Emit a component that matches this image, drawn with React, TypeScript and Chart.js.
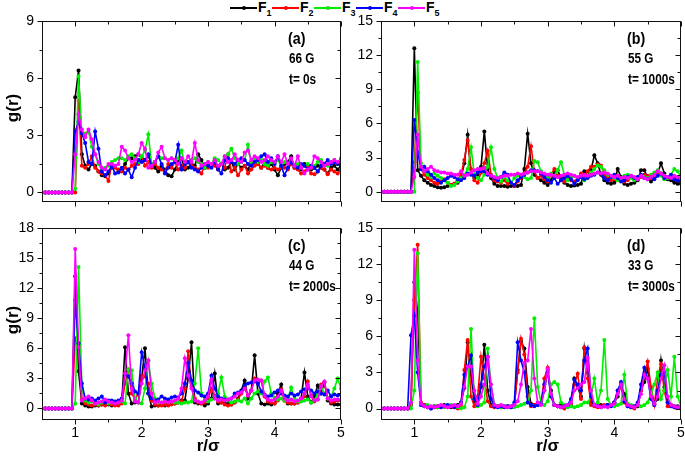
import React, { useEffect, useRef } from 'react';
import { Chart, registerables } from 'chart.js';

Chart.register(...registerables);

const FONT = "'Liberation Sans', Arial, sans-serif";

// ---------------- data ----------------
const rGrid = [
  0.5, 0.55, 0.6, 0.65, 0.7, 0.75, 0.8, 0.85, 0.9, 0.95,
  1, 1.05, 1.1, 1.15, 1.2, 1.25, 1.3, 1.35, 1.4, 1.45,
  1.5, 1.55, 1.6, 1.65, 1.7, 1.75, 1.8, 1.85, 1.9, 1.95,
  2, 2.05, 2.1, 2.15, 2.2, 2.25, 2.3, 2.35, 2.4, 2.45,
  2.5, 2.55, 2.6, 2.65, 2.7, 2.75, 2.8, 2.85, 2.9, 2.95,
  3, 3.05, 3.1, 3.15, 3.2, 3.25, 3.3, 3.35, 3.4, 3.45,
  3.5, 3.55, 3.6, 3.65, 3.7, 3.75, 3.8, 3.85, 3.9, 3.95,
  4, 4.05, 4.1, 4.15, 4.2, 4.25, 4.3, 4.35, 4.4, 4.45,
  4.5, 4.55, 4.6, 4.65, 4.7, 4.75, 4.8, 4.85, 4.9, 4.95,
  5,
];

const seriesNames = ['F1', 'F2', 'F3', 'F4', 'F5'];

// (a) 66 G, t = 0 s
const a_F1 = [
  0, 0, 0, 0, 0, 0, 0, 0, 0, 0,
  5.0, 6.4, 2.0, 1.4, 1.2, 1.5, 1.4, 1.1, 0.9, 0.85,
  1.0, 1.3, 1.4, 1.1, 1.2, 1.5, 1.8, 1.8, 1.9, 2.0,
  1.8, 1.7, 1.9, 1.5, 1.3, 1.1, 1.4, 1.2, 0.9, 0.85,
  1.2, 1.6, 1.8, 1.2, 1.3, 1.5, 1.4, 2.0, 1.7, 1.3,
  1.4, 1.5, 1.7, 1.3, 1.5, 1.2, 1.3, 1.6, 1.2, 1.5,
  1.3, 1.4, 1.2, 1.6, 1.7, 1.5, 1.3, 1.6, 1.3, 1.5,
  1.2, 0.9, 1.3, 1.5, 1.6, 1.9, 1.3, 1.4, 1.2, 1.5,
  1.4, 1.2, 1.3, 1.4, 1.3, 1.2, 1.0, 1.3, 1.4, 1.2,
  1.4,
];
const a_F2 = [
  0, 0, 0, 0, 0, 0, 0, 0, 0, 0,
  0, 4.8, 1.4, 1.3, 1.5, 1.9, 1.3, 1.1, 1.0, 0.9,
  0.6, 1.5, 1.3, 1.2, 1.1, 1.3, 1.2, 1.4, 1.5, 1.5,
  1.9, 1.4, 1.6, 1.3, 1.5, 1.3, 1.2, 1.1, 1.5, 1.3,
  1.6, 1.2, 1.4, 1.3, 1.6, 1.4, 1.3, 1.2, 1.0, 1.4,
  1.3, 1.5, 1.4, 1.2, 1.5, 1.3, 2.0, 1.1, 1.3, 0.9,
  1.2, 1.4, 1.0, 1.2, 1.4, 1.5, 1.3, 1.4, 1.3, 1.2,
  1.3, 1.2, 1.3, 1.3, 1.2, 1.5, 1.3, 1.2, 1.0, 1.1,
  1.3, 1.0, 0.95, 1.1, 1.3, 1.2, 0.95, 1.2, 1.1, 1.0,
  1.2,
];
const a_F3 = [
  0, 0, 0, 0, 0, 0, 0, 0, 0, 0,
  0.2, 6.1, 3.1, 3.1, 3.2, 2.4, 2.0, 1.5, 1.2, 1.3,
  1.4, 1.6, 1.7, 1.8, 1.8, 1.7, 1.9, 2.0, 1.8, 1.6,
  1.9, 2.2, 3.05, 1.5, 1.6, 1.9, 1.8, 1.8, 1.7, 1.8,
  1.6, 1.8, 2.2, 1.5, 1.6, 1.7, 1.8, 1.6, 1.5, 1.3,
  1.6, 1.5, 1.8, 1.7, 1.5, 1.9, 2.0, 2.3, 1.8, 1.5,
  1.6, 1.7, 2.5, 1.6, 1.8, 1.6, 1.7, 1.5, 1.4, 1.6,
  1.5, 1.7, 1.4, 1.6, 1.5, 1.7, 1.4, 1.5, 1.3, 1.4,
  1.5, 1.3, 1.4, 1.6, 1.7, 1.5, 1.4, 1.6, 1.7, 1.5,
  1.7,
];
const a_F4 = [
  0, 0, 0, 0, 0, 0, 0, 0, 0, 0,
  3.2, 3.7, 3.1, 2.6, 1.6, 1.5, 3.2, 2.3, 1.1, 0.9,
  1.1, 1.4, 1.0, 1.05, 1.3, 1.0, 1.2, 0.8, 1.3, 1.7,
  1.6, 1.7, 2.0, 1.4, 1.6, 1.9, 1.5, 1.0, 1.3, 1.5,
  1.6, 2.5, 1.2, 1.5, 1.6, 1.3, 1.2, 1.1, 1.3, 1.5,
  1.4, 1.3, 1.6, 1.2, 1.0, 1.7, 1.8, 1.6, 1.5, 1.7,
  1.8, 1.7, 1.5, 1.4, 1.6, 1.7, 1.9, 2.0, 1.6, 1.8,
  1.5, 1.9, 1.4, 0.9, 1.3, 1.6, 1.4, 1.3, 1.5, 1.4,
  1.2, 1.4, 1.3, 1.1, 1.4, 1.5, 1.7, 1.5, 1.6, 1.5,
  1.6,
];
const a_F5 = [
  0, 0, 0, 0, 0, 0, 0, 0, 0, 0,
  2.0, 4.1, 3.3, 2.9, 3.3, 2.8, 2.0, 1.6, 1.3, 1.2,
  1.5, 1.5, 1.4, 1.5, 2.4, 2.2, 1.8, 1.6, 1.7, 2.0,
  2.6, 2.3, 1.3, 1.4, 1.6, 2.1, 2.4, 1.8, 1.7, 1.8,
  1.7, 1.5, 1.8, 1.6, 1.9, 1.6, 2.6, 1.7, 1.4, 1.5,
  1.6, 1.5, 1.7, 1.4, 1.5, 1.9, 1.6, 1.7, 2.0, 1.7,
  1.6, 2.1, 2.2, 1.7, 1.9, 1.8, 1.6, 1.7, 1.9, 1.7,
  1.6, 1.9, 1.6, 2.0, 1.5, 1.8, 1.4, 1.9, 1.3, 1.0,
  1.2, 1.3, 1.9, 1.8, 1.6, 1.4, 1.5, 1.6, 1.7, 1.6,
  1.8,
];

// (b) 55 G, t = 1000 s
const b_F1 = [
  0, 0, 0, 0, 0, 0, 0, 0, 0, 0,
  12.6, 1.9, 1.4, 1.0, 0.8, 0.6, 0.5, 0.4, 0.35, 0.4,
  0.5, 0.6, 0.7, 0.8, 1.2, 2.5, 5.0, 1.6, 1.2, 1.5,
  2.2, 5.3, 2.0, 1.2, 0.7, 0.5, 0.5, 0.5, 0.45, 0.5,
  0.5, 0.5, 0.6, 2.0, 5.1, 2.5, 1.5, 1.2, 1.0, 0.8,
  0.6, 1.0, 1.7, 1.9, 1.2, 0.8, 0.6, 0.5, 0.55, 0.6,
  0.7, 1.8, 1.4, 1.9, 3.2, 2.5, 1.5, 1.0, 0.8, 0.7,
  0.8, 2.0, 1.3, 0.7, 0.6, 0.7, 0.8, 1.0, 1.9, 1.9,
  1.2, 0.9, 1.3, 1.6, 2.5, 1.6, 1.1, 1.0, 0.8, 0.7,
  0.7,
];
const b_F2 = [
  0, 0, 0, 0, 0, 0, 0, 0, 0, 0,
  2.6, 8.7, 2.0, 1.5, 1.2, 1.0, 0.8, 0.7, 0.9, 1.1,
  0.8, 0.6, 0.7, 1.0, 1.5, 2.8, 4.5, 2.0, 1.0, 0.8,
  1.7, 2.5, 3.6, 1.5, 1.0, 0.9, 0.8, 1.0, 0.7, 0.8,
  0.5, 0.9, 1.2, 1.6, 2.2, 4.0, 1.8, 1.2, 1.4, 1.1,
  0.9, 1.5, 2.0, 1.4, 1.0, 0.9, 1.1, 1.0, 0.9, 1.2,
  1.6, 1.4, 1.8, 2.2, 2.2, 2.4, 2.3, 1.5, 1.2, 1.0,
  1.1, 1.4, 1.2, 0.9, 1.0, 1.3, 1.2, 1.1, 1.3, 1.5,
  1.4, 1.2, 1.4, 1.5, 1.6, 1.3, 1.2, 1.4, 1.2, 1.0,
  1.1,
];
const b_F3 = [
  0, 0, 0, 0, 0, 0, 0, 0, 0, 0,
  0, 11.4, 2.5, 1.8, 1.5, 1.3, 1.6, 1.4, 1.2, 1.0,
  0.8, 0.5, 0.6, 0.9, 1.2, 1.5, 2.0, 3.9, 1.5, 1.2,
  1.0, 1.5, 2.2, 3.9, 2.0, 1.2, 0.9, 1.3, 1.0, 0.8,
  1.2, 1.4, 1.5, 1.3, 1.1, 1.2, 2.7, 2.6, 1.8, 1.5,
  1.2, 1.6, 1.4, 1.9, 2.6, 1.5, 1.0, 1.3, 1.4, 1.2,
  1.3, 1.0, 1.4, 1.7, 2.0, 2.3, 2.2, 1.9, 1.5, 1.3,
  1.2, 1.0, 1.1, 1.4, 1.5, 1.2, 1.0, 1.1, 1.5, 1.3,
  1.2, 1.5, 1.7, 1.9, 1.4, 1.1, 1.2, 1.5, 2.0, 1.8,
  1.3,
];
const b_F4 = [
  0, 0, 0, 0, 0, 0, 0, 0, 0, 0,
  6.3, 3.5, 2.0, 2.2, 1.8, 1.5, 1.2, 1.0, 0.8, 1.0,
  1.2, 1.4, 1.3, 1.1, 1.0, 1.2, 1.6, 1.5, 1.4, 1.7,
  1.8, 1.8, 1.5, 1.4, 1.2, 1.0, 1.3, 1.7, 1.5, 0.8,
  0.6, 1.0, 1.3, 1.5, 1.7, 1.9, 1.9, 1.8, 1.6, 1.3,
  1.0, 0.8, 1.2, 0.7, 1.0, 1.2, 1.4, 1.1, 0.7, 1.0,
  1.3, 1.1, 1.2, 1.4, 1.5, 1.7, 1.6, 1.2, 1.0, 1.3,
  1.5, 1.2, 0.9, 1.0, 1.3, 1.4, 1.2, 1.3, 1.5, 1.2,
  1.1, 1.3, 1.1, 1.4, 1.6, 1.2, 1.3, 1.5, 1.1, 1.0,
  0.9,
];
const b_F5 = [
  0, 0, 0, 0, 0, 0, 0, 0, 0, 0,
  1.3, 5.0, 2.2, 1.8, 2.0, 2.2, 1.9, 1.8, 1.7, 1.7,
  1.6, 1.6, 1.5, 1.5, 1.8, 1.4, 1.5, 1.7, 1.9, 2.0,
  2.0, 2.1, 1.6, 1.4, 1.3, 1.2, 1.3, 1.4, 1.4, 1.5,
  1.5, 1.6, 1.5, 1.6, 1.7, 1.8, 1.8, 1.8, 1.7, 1.6,
  1.5, 1.5, 1.4, 1.3, 1.4, 1.5, 1.6, 1.5, 1.4, 1.3,
  1.4, 1.5, 1.4, 1.5, 1.6, 1.7, 1.6, 1.7, 1.6, 1.4,
  1.3, 1.4, 1.2, 1.3, 1.2, 1.4, 1.3, 1.1, 1.4, 1.2,
  1.1, 1.3, 1.5, 1.8, 1.6, 1.4, 1.3, 1.2, 1.4, 1.3,
  1.2,
];

// (c) 44 G, t = 2000 s
const c_F1 = [
  0, 0, 0, 0, 0, 0, 0, 0, 0, 0,
  13.2, 3.7, 0.5, 0.3, 0.2, 0.2, 0.3, 0.3, 0.4, 0.5,
  0.4, 0.3, 0.4, 0.5, 0.6, 6.1, 1.5, 0.5, 0.6, 0.6,
  3.0, 6.0, 1.5, 0.2, 0.3, 0.3, 0.4, 0.3, 0.4, 0.5,
  0.5, 0.6, 0.8, 0.8, 3.0, 6.6, 0.6, 0.5, 0.5, 0.3,
  0.5, 1.0, 3.5, 0.5, 0.6, 0.5, 0.5, 0.4, 0.6, 1.0,
  1.8, 2.8, 1.0, 1.8, 5.3, 1.5, 0.5, 0.4, 0.5, 0.4,
  0.5, 1.5, 2.4, 0.8, 0.5, 0.5, 0.5, 0.6, 1.0, 3.6,
  1.2, 0.6, 1.2, 2.3, 1.5, 2.6, 0.8, 0.5, 0.4, 0.4,
  0.4,
];
const c_F2 = [
  0, 0, 0, 0, 0, 0, 0, 0, 0, 0,
  7.0, 6.2, 0.9, 0.5, 0.4, 0.3, 0.4, 0.3, 0.4, 0.3,
  0.5, 0.4, 0.3, 0.3, 0.5, 2.5, 3.8, 1.5, 0.9, 1.5,
  3.3, 3.2, 2.5, 0.8, 0.4, 0.3, 0.3, 0.4, 0.3, 0.4,
  0.5, 0.6, 0.7, 2.0, 5.7, 2.2, 1.0, 0.6, 0.5, 0.6,
  1.0, 2.0, 1.3, 0.7, 0.6, 0.4, 0.3, 0.4, 0.6, 0.9,
  1.5, 2.0, 1.3, 1.8, 3.0, 2.5, 2.8, 1.2, 0.7, 0.6,
  0.5, 0.8, 1.9, 0.8, 0.6, 0.5, 0.5, 0.6, 0.8, 1.2,
  2.7, 1.3, 0.7, 0.9, 2.4, 2.6, 1.0, 0.6, 0.7, 0.8,
  0.8,
];
const c_F3 = [
  0, 0, 0, 0, 0, 0, 0, 0, 0, 0,
  0.5, 14.1, 2.0, 0.8, 0.6, 0.7, 0.5, 0.4, 0.6, 0.7,
  0.5, 0.6, 0.7, 0.6, 0.7, 0.5, 3.9, 3.8, 1.0, 0.6,
  0.5, 2.0, 4.7, 2.5, 1.0, 0.6, 0.6, 0.7, 0.8, 0.7,
  0.6, 0.6, 0.5, 0.6, 0.6, 0.7, 2.5, 6.0, 1.5, 0.8,
  0.7, 0.9, 1.0, 1.5, 3.1, 1.2, 0.8, 0.6, 0.7, 0.8,
  0.7, 1.0, 0.5, 1.0, 1.5, 1.7, 1.5, 2.7, 3.1, 1.5,
  1.1, 0.9, 1.0, 0.8, 1.0, 2.1, 1.0, 0.7, 0.7, 0.8,
  0.9, 0.6, 0.8, 1.5, 2.2, 1.5, 1.0, 1.2, 2.0, 3.0,
  2.0,
];
const c_F4 = [
  0, 0, 0, 0, 0, 0, 0, 0, 0, 0,
  10.8, 6.5, 2.5, 1.0, 0.9, 1.0, 0.8, 1.0, 1.2, 0.6,
  0.8, 0.8, 0.7, 0.8, 1.0, 3.5, 3.2, 2.5, 1.7, 1.5,
  5.6, 4.0, 1.5, 1.0, 0.8, 0.9, 1.2, 1.0, 0.9, 1.1,
  1.2, 1.1, 1.5, 2.5, 4.5, 2.8, 1.8, 1.6, 1.3, 1.2,
  1.5, 3.3, 2.0, 1.2, 1.0, 0.9, 0.9, 1.0, 1.5, 1.6,
  1.7, 2.3, 2.5, 2.6, 2.7, 2.5, 1.7, 1.4, 1.2, 1.3,
  1.6, 1.8, 1.5, 1.3, 1.2, 1.5, 1.3, 1.4, 1.7, 1.9,
  2.0, 1.8, 1.5, 1.7, 1.5, 1.4, 1.8, 1.2, 1.4, 1.3,
  1.4,
];
const c_F5 = [
  0, 0, 0, 0, 0, 0, 0, 0, 0, 0,
  15.9, 6.1, 0.8, 1.0, 1.2, 0.8, 0.5, 0.6, 0.7, 0.9,
  0.7, 0.6, 0.5, 0.6, 0.8, 3.5, 7.3, 2.0, 0.7, 0.6,
  2.5, 3.8, 4.8, 1.5, 0.6, 0.7, 0.6, 0.7, 0.6, 0.7,
  0.8, 1.0, 2.0, 5.0, 3.3, 2.0, 0.8, 0.7, 0.6, 0.8,
  1.2, 2.9, 1.0, 0.8, 0.9, 0.8, 0.9, 1.0, 1.2, 1.5,
  1.6, 2.0, 1.3, 1.8, 2.8, 2.9, 2.8, 1.3, 0.9, 0.8,
  0.9, 1.2, 1.8, 1.0, 0.8, 0.9, 0.7, 0.8, 1.0, 1.5,
  2.4, 1.2, 0.8, 0.9, 2.2, 2.7, 1.0, 0.8, 0.9, 0.9,
  0.9,
];

// (d) 33 G, t = 3000 s
const d_F1 = [
  0, 0, 0, 0, 0, 0, 0, 0, 0, 0.3,
  10.5, 8.0, 0.4, 0.3, 0.2, 0.1, 0.2, 0.1, 0.2, 0.3,
  0.2, 0.1, 0.2, 0.3, 0.5, 1.7, 5.5, 2.8, 0.6, 0.3,
  1.8, 5.3, 1.5, 0.3, 0.2, 0.2, 0.1, 0.2, 0.2, 0.1,
  0.2, 3.2, 5.6, 5.0, 1.8, 0.4, 0.3, 0.3, 0.4, 1.5,
  3.2, 1.5, 0.3, 0.2, 0.3, 0.1, 0.2, 0.3, 2.5, 1.8,
  1.0, 5.0, 3.0, 0.5, 0.3, 0.2, 0.3, 0.2, 0.3, 0.3,
  0.5, 1.0, 2.0, 1.2, 0.3, 0.2, 0.1, 0.2, 1.5, 2.2,
  3.3, 1.5, 0.4, 0.8, 4.0, 1.8, 0.5, 0.3, 0.2, 0.2,
  0.1,
];
const d_F2 = [
  0, 0, 0, 0, 0, 0, 0, 0, 0, 0.4,
  9.0, 13.6, 0.5, 0.3, 0.1, 0.0, 0.1, 0.2, 0.1, 0.2,
  0.1, 0.2, 0.1, 0.0, 0.3, 3.2, 5.7, 1.0, 0.2, 1.0,
  4.3, 2.5, 0.6, 0.2, 0.1, 0.2, 0.1, 0.2, 0.1, 0.2,
  0.3, 3.0, 5.8, 4.5, 1.0, 0.2, 0.3, 0.4, 0.5, 2.5,
  3.4, 1.0, 0.3, 0.2, 0.1, 0.0, 0.2, 0.4, 2.0, 2.9,
  0.8, 5.1, 2.5, 0.3, 0.2, 0.1, 0.2, 0.3, 0.2, 0.3,
  0.5, 1.5, 1.8, 0.5, 0.2, 0.1, 0.0, 0.3, 1.5, 2.8,
  3.9, 1.8, 0.3, 2.5, 3.7, 1.5, 0.2, 0.2, 0.1, 0.1,
  0.1,
];
const d_F3 = [
  0, 0, 0, 0, 0, 0, 0, 0, 0, 0,
  1.5, 12.9, 0.3, 0.2, 0.3, 0.1, 0.2, 0.1, 0.2, 0.1,
  0.2, 0.3, 0.2, 0.1, 0.0, 0.1, 1.0, 6.6, 0.8, 0.2,
  0.3, 0.5, 5.0, 2.0, 0.3, 0.2, 0.1, 0.2, 0.1, 0.2,
  0.1, 0.2, 0.3, 0.4, 0.5, 1.5, 7.5, 1.8, 0.5, 0.3,
  0.6, 2.0, 2.2, 2.0, 0.5, 0.3, 0.1, 0.2, 0.1, 0.2,
  0.3, 0.5, 0.5, 1.0, 2.5, 0.5, 1.5, 5.7, 0.8, 0.3,
  0.2, 0.3, 0.4, 2.8, 0.4, 0.3, 0.2, 0.3, 0.2, 0.3,
  0.5, 1.2, 2.0, 3.0, 0.8, 1.5, 3.2, 1.0, 4.3, 1.0,
  0.2,
];
const d_F4 = [
  0, 0, 0, 0, 0, 0, 0, 0, 0, 6.1,
  7.7, 3.0, 0.3, 0.2, 0.1, 0.0, 0.1, 0.2, 0.1, 0.2,
  0.3, 0.2, 0.1, 0.2, 0.5, 2.8, 3.5, 4.4, 0.8, 0.3,
  2.0, 3.5, 4.3, 0.8, 0.2, 0.1, 0.2, 0.1, 0.2, 0.1,
  0.5, 5.5, 4.0, 3.0, 0.5, 0.3, 0.2, 0.3, 0.4, 2.0,
  3.0, 1.0, 0.3, 0.2, 0.1, 0.2, 0.3, 0.8, 2.4, 2.0,
  1.5, 4.0, 5.0, 1.0, 0.3, 0.2, 0.1, 0.2, 0.3, 0.2,
  0.5, 1.5, 2.2, 0.6, 0.2, 0.1, 0.2, 0.5, 2.0, 3.4,
  2.5, 0.8, 0.3, 1.5, 2.8, 3.0, 0.5, 0.2, 0.1, 0.1,
  0.0,
];
const d_F5 = [
  0, 0, 0, 0, 0, 0, 0, 0, 0, 0.5,
  13.2, 4.0, 0.4, 0.2, 0.1, 0.2, 0.1, 0.2, 0.3, 0.2,
  0.1, 0.2, 0.3, 0.2, 0.4, 1.8, 3.5, 3.5, 1.5, 0.4,
  1.0, 2.0, 4.3, 2.0, 0.3, 0.2, 0.3, 0.2, 0.1, 0.2,
  0.3, 0.6, 2.0, 3.8, 4.0, 6.6, 2.5, 0.5, 0.3, 1.5,
  3.3, 1.2, 0.3, 0.2, 0.1, 0.2, 0.3, 0.5, 1.5, 1.7,
  2.0, 2.2, 4.2, 1.5, 0.3, 0.2, 0.1, 0.2, 0.1, 0.3,
  0.4, 1.2, 2.0, 0.8, 0.3, 0.2, 0.1, 0.3, 1.2, 2.8,
  2.5, 1.0, 0.4, 1.0, 2.5, 3.6, 1.0, 0.3, 0.2, 0.1,
  0.1,
];

const xTickValues = [1, 2, 3, 4, 5];
const xMinorValues = [1.5, 2.5, 3.5, 4.5];
const yTicksA = [0, 3, 6, 9];
const yTicksB = [0, 3, 6, 9, 12, 15];
const yTicksC = [0, 3, 6, 9, 12, 15, 18];
const yTicksD = [0, 3, 6, 9, 12, 15];

const panelTags = ['(a)', '(b)', '(c)', '(d)'];
const panelFields = ['66 G', '55 G', '44 G', '33 G'];
const panelTimes = ['t= 0s', 't= 1000s', 't= 2000s', 't= 3000s'];
const yTitleText = 'g(r)';
const xTitleText = 'r/\u03c3';

// ---------------- styling / layout ----------------
const seriesColors = ['#000000', '#ff0000', '#00ee00', '#0000ff', '#ff00ff'];
const legendX = [230, 272, 314, 356, 398];
const NARROW = 0.84;

type Panel = {
  series: number[][];
  yMin: number;
  yMax: number;
  yTicks: number[];
  tag: string;
  field: string;
  time: string;
  box: { left: number; top: number; width: number; height: number };
  area: { left: number; top: number; right: number; bottom: number };
  xLabels: boolean;
  yTitleY: number | null;
};

const panels: Panel[] = [
  {
    series: [a_F1, a_F2, a_F3, a_F4, a_F5], yMin: -0.5, yMax: 9, yTicks: yTicksA,
    tag: panelTags[0], field: panelFields[0], time: panelTimes[0],
    box: { left: 0, top: 0, width: 345, height: 222 },
    area: { left: 42, top: 21, right: 341, bottom: 212 },
    xLabels: false, yTitleY: 108,
  },
  {
    series: [b_F1, b_F2, b_F3, b_F4, b_F5], yMin: -0.9, yMax: 15, yTicks: yTicksB,
    tag: panelTags[1], field: panelFields[1], time: panelTimes[1],
    box: { left: 345, top: 0, width: 340, height: 222 },
    area: { left: 381, top: 21, right: 681, bottom: 212 },
    xLabels: false, yTitleY: null,
  },
  {
    series: [c_F1, c_F2, c_F3, c_F4, c_F5], yMin: -1.15, yMax: 18, yTicks: yTicksC,
    tag: panelTags[2], field: panelFields[2], time: panelTimes[2],
    box: { left: 0, top: 222, width: 345, height: 234 },
    area: { left: 42, top: 228, right: 341, bottom: 420 },
    xLabels: true, yTitleY: 320,
  },
  {
    series: [d_F1, d_F2, d_F3, d_F4, d_F5], yMin: -0.95, yMax: 15, yTicks: yTicksD,
    tag: panelTags[3], field: panelFields[3], time: panelTimes[3],
    box: { left: 345, top: 222, width: 340, height: 234 },
    area: { left: 381, top: 228, right: 681, bottom: 420 },
    xLabels: true, yTitleY: null,
  },
];

function narrowText(ctx: any, text: string, x: number, y: number) {
  ctx.save();
  ctx.translate(x, y);
  ctx.scale(NARROW, 1);
  ctx.fillText(text, 0, 0);
  ctx.restore();
}

const framePlugin = {
  id: 'frame',
  afterDraw(chart: any, _args: any, opts: any) {
    const { ctx, chartArea } = chart;
    const xs = chart.scales.x;
    const ys = chart.scales.y;
    const L = Math.round(chartArea.left) + 0.5;
    const R = Math.round(chartArea.right) - 0.5;
    const T = Math.round(chartArea.top) + 0.5;
    const B = Math.round(chartArea.bottom) - 0.5;
    ctx.save();
    ctx.strokeStyle = '#111';
    ctx.lineWidth = 1;
    ctx.strokeRect(L, T, R - L, B - T);
    ctx.beginPath();
    const yMajor: number[] = opts.yMajor;
    const yMinor: number[] = [];
    yMajor.forEach((v: number) => {
      const m = v + 1.5;
      if (m < opts.yMax) yMinor.push(m);
    });
    yMajor.forEach((v: number) => {
      const p = Math.round(ys.getPixelForValue(v)) + 0.5;
      ctx.moveTo(L - 5, p); ctx.lineTo(L, p);
      ctx.moveTo(R, p); ctx.lineTo(R - 5, p);
    });
    yMinor.forEach((v: number) => {
      const p = Math.round(ys.getPixelForValue(v)) + 0.5;
      ctx.moveTo(L - 3, p); ctx.lineTo(L, p);
      ctx.moveTo(R, p); ctx.lineTo(R - 3, p);
    });
    xTickValues.forEach((v) => {
      const p = Math.round(xs.getPixelForValue(v)) + 0.5;
      ctx.moveTo(p, B); ctx.lineTo(p, B + 5);
      ctx.moveTo(p, T); ctx.lineTo(p, T + 5);
    });
    xMinorValues.forEach((v) => {
      const p = Math.round(xs.getPixelForValue(v)) + 0.5;
      ctx.moveTo(p, B); ctx.lineTo(p, B + 3);
      ctx.moveTo(p, T); ctx.lineTo(p, T + 3);
    });
    ctx.stroke();

    ctx.fillStyle = '#000';
    ctx.textAlign = 'left';
    ctx.textBaseline = 'middle';
    const tx = chartArea.left + 246;
    ctx.font = `bold 17px ${FONT}`;
    narrowText(ctx, opts.tag, tx, chartArea.top + 18);
    ctx.font = `bold 14px ${FONT}`;
    narrowText(ctx, opts.field, tx + 1, chartArea.top + 38);
    narrowText(ctx, opts.time, tx + 1, chartArea.top + 59);

    if (opts.yTitleY !== null && opts.yTitleY !== undefined) {
      ctx.save();
      ctx.translate(13, opts.yTitleY);
      ctx.rotate(-Math.PI / 2);
      ctx.textAlign = 'center';
      ctx.font = `bold 17px ${FONT}`;
      ctx.fillText(yTitleText, 0, 0);
      ctx.restore();
    }
    if (opts.xTitle) {
      ctx.textAlign = 'center';
      ctx.font = `bold 17px ${FONT}`;
      ctx.fillText(xTitleText, xs.getPixelForValue(3), chartArea.bottom + 26);
    }
    ctx.restore();
  },
};

function PanelChart({ panel }: { panel: Panel }) {
  const ref = useRef<HTMLCanvasElement | null>(null);
  useEffect(() => {
    if (!ref.current) return;
    const { box, area } = panel;
    const padTop = area.top - box.top;
    const padRight = box.left + box.width - area.right;
    const yAxisW = area.left - box.left;
    const below = box.top + box.height - area.bottom;
    const datasets = panel.series.map((vals, k) => ({
      label: seriesNames[k],
      data: rGrid.map((r, i) => ({ x: r, y: vals[i] })),
      borderColor: seriesColors[k],
      backgroundColor: seriesColors[k],
      borderWidth: 1.6,
      pointRadius: 2,
      pointBorderWidth: 0,
      pointHoverRadius: 0,
      tension: 0,
      order: 4 - k,
    }));
    const chart = new Chart(ref.current, {
      type: 'line',
      data: { datasets },
      plugins: [framePlugin as any],
      options: {
        responsive: false,
        maintainAspectRatio: false,
        animation: false,
        devicePixelRatio: 1,
        events: [],
        layout: {
          padding: { left: 0, top: padTop, right: padRight, bottom: panel.xLabels ? 0 : below },
        },
        plugins: {
          legend: { display: false },
          tooltip: { enabled: false },
          frame: {
            yMajor: panel.yTicks,
            yMax: panel.yMax,
            tag: panel.tag,
            field: panel.field,
            time: panel.time,
            yTitleY: panel.yTitleY === null ? null : panel.yTitleY - box.top,
            xTitle: panel.xLabels,
          },
        } as any,
        scales: {
          x: {
            type: 'linear',
            min: 0.5,
            max: 5,
            display: panel.xLabels,
            grid: { display: false, drawTicks: false },
            border: { display: false },
            ticks: {
              font: { size: 14, family: FONT },
              color: '#000',
              padding: 5,
              maxRotation: 0,
              autoSkip: false,
              callback: (v: any) => String(v),
            },
            afterBuildTicks: (s: any) => {
              s.ticks = xTickValues.map((v) => ({ value: v }));
            },
            afterFit: (s: any) => {
              s.height = below;
              s.paddingLeft = 0;
              s.paddingRight = 0;
            },
          },
          y: {
            type: 'linear',
            min: panel.yMin,
            max: panel.yMax,
            grid: { display: false, drawTicks: false },
            border: { display: false },
            ticks: {
              font: { size: 14, family: FONT },
              color: '#000',
              padding: 8,
              autoSkip: false,
              callback: (v: any) => String(v),
            },
            afterBuildTicks: (s: any) => {
              s.ticks = panel.yTicks.map((v) => ({ value: v }));
            },
            afterFit: (s: any) => {
              s.width = yAxisW;
              s.paddingTop = 0;
              s.paddingBottom = 0;
            },
          },
        },
      } as any,
    });
    return () => chart.destroy();
  }, [panel]);
  const { box } = panel;
  return (
    <canvas
      ref={ref}
      width={box.width}
      height={box.height}
      style={{ position: 'absolute', left: box.left, top: box.top, width: box.width, height: box.height }}
    />
  );
}

export default function App() {
  return (
    <div
      style={{
        position: 'fixed', left: 0, top: 0, width: 685, height: 456,
        background: '#fff', overflow: 'hidden', fontFamily: FONT,
      }}
    >
      {seriesNames.map((name, k) => (
        <React.Fragment key={name}>
          <div style={{ position: 'absolute', left: legendX[k], top: 7, width: 27, height: 2, background: seriesColors[k] }} />
          <div style={{ position: 'absolute', left: legendX[k] + 11.5, top: 6, width: 4, height: 4, borderRadius: 2, background: seriesColors[k] }} />
          <div
            style={{
              position: 'absolute', left: legendX[k] + 28, top: 0, fontSize: 14, lineHeight: '14px',
              fontWeight: 'bold', whiteSpace: 'nowrap', color: '#000',
            }}
          >
            {name.slice(0, 1)}
            <span style={{ fontSize: 9, position: 'relative', top: 4 }}>{name.slice(1)}</span>
          </div>
        </React.Fragment>
      ))}
      {panels.map((p, i) => (
        <PanelChart key={i} panel={p} />
      ))}
    </div>
  );
}
